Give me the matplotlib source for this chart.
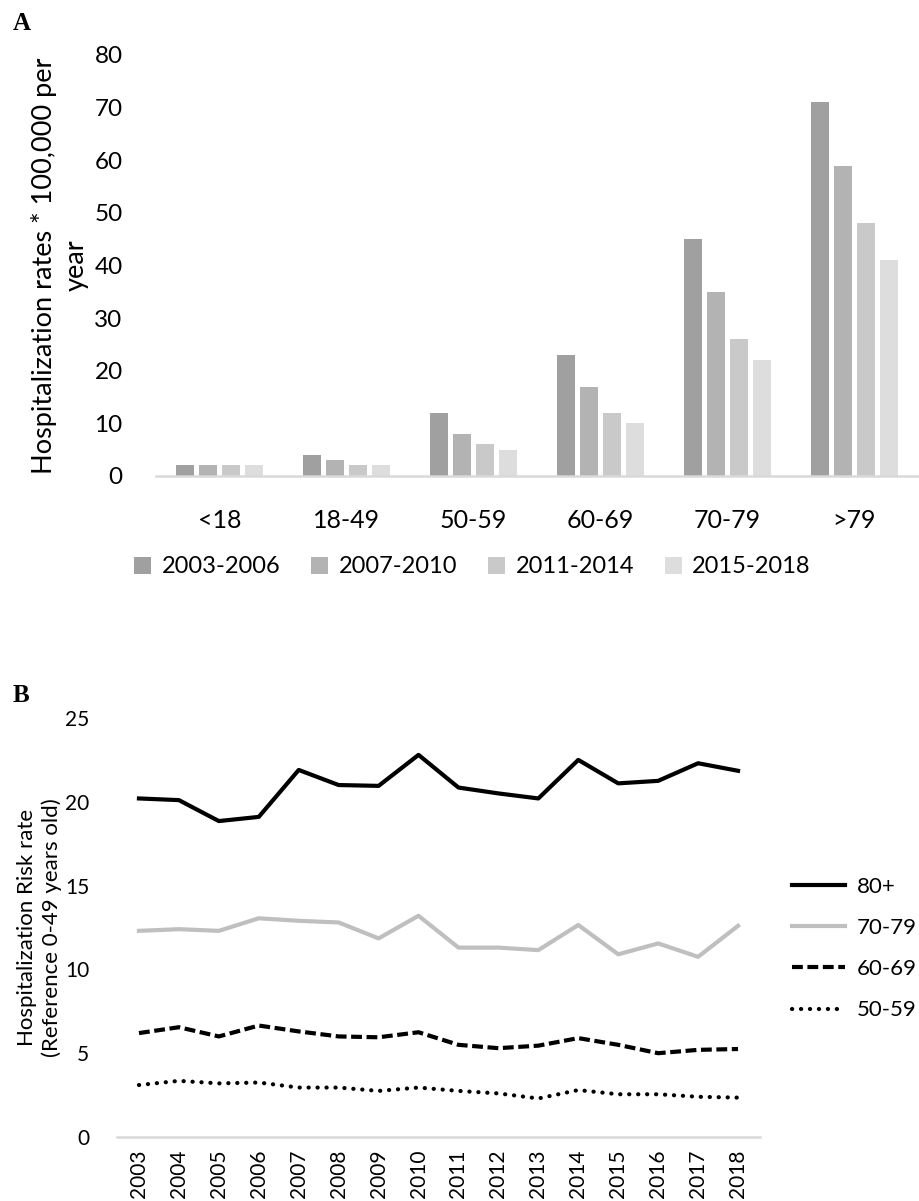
"""Two-panel figure: hospitalization rates by age group (A) and risk rate vs 0-49 (B)."""

import matplotlib
matplotlib.use("Agg")
import matplotlib.pyplot as plt
from matplotlib.patches import Patch
import numpy as np

plt.rcParams["font.family"] = ["Lato", "DejaVu Sans"]

# ── Panel A data ──────────────────────────────────────────────────────────────
age_groups = ["<18", "18-49", "50-59", "60-69", "70-79", ">79"]
periods = ["2003-2006", "2007-2010", "2011-2014", "2015-2018"]
rates_2003_2006 = [2, 4, 12, 23, 45, 71]
rates_2007_2010 = [2, 3, 8, 17, 35, 59]
rates_2011_2014 = [2, 2, 6, 12, 26, 48]
rates_2015_2018 = [2, 2, 5, 10, 22, 41]
bar_colors = ["#9fa09f", "#b2b3b2", "#c8c9c8", "#dcdddc"]

# ── Panel B data ──────────────────────────────────────────────────────────────
years = [str(y) for y in range(2003, 2019)]
risk_80plus = [20.2, 20.1, 18.85, 19.1, 21.9, 21.0, 20.95, 22.8, 20.85, 20.5,
               20.2, 22.5, 21.1, 21.25, 22.3, 21.85]
risk_70_79 = [12.3, 12.4, 12.3, 13.05, 12.9, 12.8, 11.85, 13.2, 11.3, 11.3,
              11.15, 12.65, 10.9, 11.55, 10.75, 12.6]
risk_60_69 = [6.2, 6.55, 6.0, 6.65, 6.3, 6.0, 5.95, 6.25, 5.5, 5.3,
              5.45, 5.9, 5.5, 5.0, 5.2, 5.25]
risk_50_59 = [3.1, 3.35, 3.2, 3.25, 2.95, 2.95, 2.75, 2.95, 2.75, 2.6,
              2.3, 2.8, 2.55, 2.55, 2.4, 2.35]

W, H = 920, 1201
fig = plt.figure(figsize=(W / 100, H / 100), dpi=100)


def px_axes(left, top, right, bottom):
    """Axes from pixel box (origin top-left)."""
    return fig.add_axes([left / W, 1 - bottom / H, (right - left) / W, (bottom - top) / H])


def clean(ax):
    for side in ("top", "right", "left"):
        ax.spines[side].set_visible(False)
    ax.spines["bottom"].set_color("#d9d9d9")
    ax.spines["bottom"].set_linewidth(1.8)
    ax.tick_params(axis="both", length=0)


# ── Panel A ───────────────────────────────────────────────────────────────────
axA = px_axes(156, 55, 918, 476)
x = np.arange(len(age_groups))
series = [rates_2003_2006, rates_2007_2010, rates_2011_2014, rates_2015_2018]
bw = 0.142
step = 0.181
for i, (vals, col) in enumerate(zip(series, bar_colors)):
    axA.bar(x + (i - 1.5) * step, vals, width=bw, color=col, label=periods[i], zorder=2)
axA.set_xlim(-0.5, len(age_groups) - 0.5)
axA.set_ylim(0, 80)
axA.set_yticks(range(0, 81, 10))
axA.set_xticks(x)
axA.set_xticklabels(age_groups, fontsize=18)
axA.tick_params(axis="x", pad=24)
axA.tick_params(axis="y", labelsize=17.5, pad=24)
clean(axA)
axA.set_ylabel("Hospitalization rates * 100,000 per\nyear", fontsize=19.5,
               linespacing=1.35, labelpad=4)

handles = [Patch(facecolor=c, edgecolor="none") for c in bar_colors]
fig.legend(handles, periods, loc="center left", bbox_to_anchor=(134 / W, 1 - 567 / H),
           ncol=4, frameon=False, fontsize=17, handlelength=0.72, handleheight=0.72,
           handletextpad=0.45, columnspacing=1.3, borderpad=0, borderaxespad=0)

fig.text(13 / W, 1 - 23 / H, "A", fontsize=18, fontweight="bold",
         family="Liberation Serif", va="center", ha="left")

# ── Panel B ───────────────────────────────────────────────────────────────────
axB = px_axes(117, 718, 760, 1137)
xi = np.arange(len(years))
axB.plot(xi, risk_80plus, color="black", lw=3.0, label="80+")
axB.plot(xi, risk_70_79, color="#bfbfbf", lw=3.0, label="70-79")
axB.plot(xi, risk_60_69, color="black", lw=3.0, dashes=(2.6, 1.1), label="60-69")
axB.plot(xi, risk_50_59, color="black", lw=3.0, linestyle=(0, (0.05, 2.1)),
         dash_capstyle="round", label="50-59")
axB.set_xlim(-0.55, len(years) - 0.45)
axB.set_ylim(0, 25)
axB.set_yticks(range(0, 26, 5))
axB.set_xticks(xi)
axB.set_xticklabels(years, rotation=90, fontsize=15)
axB.tick_params(axis="x", pad=9)
axB.tick_params(axis="y", labelsize=15, pad=20)
clean(axB)
axB.set_ylabel("Hospitalization Risk rate\n(Reference 0-49 years old)", fontsize=16,
               linespacing=1.3, labelpad=2)
axB.legend(loc="upper left", bbox_to_anchor=(792 / W, 1 - 877 / H),
           bbox_transform=fig.transFigure, frameon=False, fontsize=16,
           handlelength=2.4, handletextpad=0.5, labelspacing=0.95,
           borderpad=0, borderaxespad=0)

fig.text(13 / W, 1 - 695 / H, "B", fontsize=18, fontweight="bold",
         family="Liberation Serif", va="center", ha="left")

fig.savefig("out.png", dpi=100)
